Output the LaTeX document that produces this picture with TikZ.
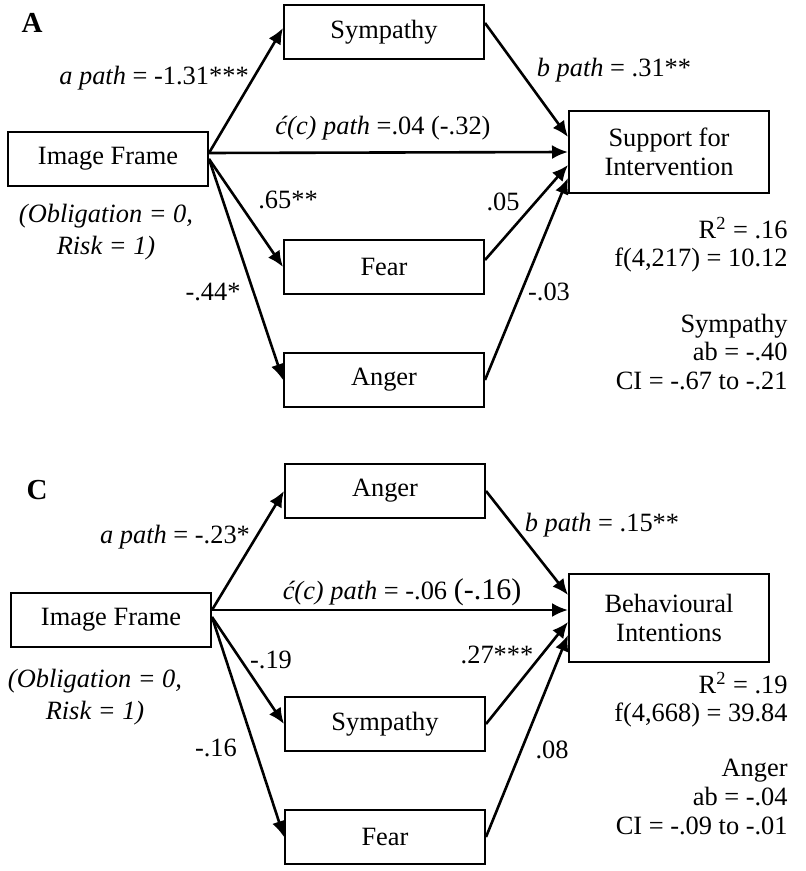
\documentclass[tikz,border=0pt]{standalone}
\usepackage{fontspec}
\setmainfont{Liberation Serif}
\usetikzlibrary{arrows.meta}
\tikzset{
    %Define standard arrow tip
    >={Latex[length=8pt,width=7pt]},
    %Define style for boxes
    var/.style={
           rectangle,
           draw=black, line width=1pt,
           minimum width=100pt,
           minimum height=27pt,
           text centered},
    outcome/.style={
           var,
           align=center,
           minimum height=41pt},
    % Define style for path coefficients
    coef/.style={inner sep=0pt},
    stat/.style={inner sep=0pt, align=right, anchor=east},
    % Define arrow style
    pil/.style={
           ->,
           line width=1.3pt}
}
\begin{document}
\begin{tikzpicture}[x=0.5pt,y=-0.5pt,every node/.style={font=\fontsize{13.2}{14.3}\selectfont}]
\useasboundingbox (0,0) rectangle (805,871);
% panel A
\node[font=\fontsize{14.5}{15}\selectfont\bfseries] (labA) at (32,23) {A};
\node[var] (frA) at (108,159) {Image Frame};
\node[var] (symA) at (384,32) {Sympathy};
\node[var] (fearA) at (384,267) {Fear};
\node[var] (angA) at (384,380) {Anger};
\node[outcome] (supA) at (669,152) {Support for\\Intervention};
\node[coef, align=center, font=\fontsize{13.2}{16}\selectfont\itshape] (codeA) at (106,232) {(Obligation = 0,\\Risk = 1)};
\path[pil]
	([yshift=3pt]frA.east) edge ([yshift=2pt]symA.west)
	([yshift=3pt]frA.east) edge (supA.west)
	(frA.east) edge (fearA.west)
	(frA.east) edge (angA.west)
	([yshift=4.5pt]symA.east) edge ([yshift=7.5pt]supA.west)
	([yshift=3.5pt]fearA.east) edge ([yshift=-6.5pt]supA.west)
	(angA.east) edge ([yshift=-13pt]supA.west);
\node[coef] (aA) at (154,78) {\textit{a path} = -1.31***};
\node[coef] (bA) at (614,70) {\textit{b path} = .31**};
\node[coef] (cA) at (383,128) {\textit{ć(c) path} =.04 (-.32)};
\node[coef] (fA1) at (288,200) {.65**};
\node[coef] (fA2) at (503,202) {.05};
\node[coef] (gA1) at (213,292) {-.44*};
\node[coef] (gA2) at (549,292) {-.03};
\node[stat] (fitA) at (788,245) {R\textsuperscript{2} = .16\\f(4,217) = 10.12};
\node[stat] (indA) at (788,352) {Sympathy\\ab = -.40\\CI = -.67 to -.21};
% panel C
\node[font=\fontsize{14.5}{15}\selectfont\bfseries] (labC) at (37,490) {C};
\node[var] (frC) at (111,620) {Image Frame};
\node[var] (angC) at (385,491) {Anger};
\node[var] (symC) at (385,724) {Sympathy};
\node[var] (fearC) at (385,837) {Fear};
\node[outcome, minimum height=44pt] (behC) at (669,618) {Behavioural\\Intentions};
\node[coef, align=center, font=\fontsize{13.2}{16}\selectfont\itshape] (codeC) at (95,697) {(Obligation = 0,\\Risk = 1)};
\path[pil]
	([yshift=5pt]frC.east) edge (angC.west)
	([yshift=5pt]frC.east) edge ([yshift=4pt]behC.west)
	([yshift=1.5pt]frC.east) edge (symC.west)
	([yshift=1.5pt]frC.east) edge (fearC.west)
	(angC.east) edge ([yshift=11.5pt]behC.west)
	(symC.east) edge ([yshift=-2pt]behC.west)
	(fearC.east) edge ([yshift=-8.5pt]behC.west);
\node[coef] (aC) at (175,537) {\textit{a path} = -.23*};
\node[coef] (bC) at (602,525) {\textit{b path} = .15**};
\node[coef] (cC) at (402,592) {\textit{ć(c) path} = -.06 {\fontsize{15}{16}\selectfont(-.16)}};
\node[coef] (sC1) at (271,660) {-.19};
\node[coef] (sC2) at (497,655) {.27***};
\node[coef] (fC1) at (216,748) {-.16};
\node[coef] (fC2) at (552,750) {.08};
\node[stat] (fitC) at (788,700) {R\textsuperscript{2} = .19\\f(4,668) = 39.84};
\node[stat] (indC) at (788,797) {Anger\\ab = -.04\\CI = -.09 to -.01};
\end{tikzpicture}
\end{document}
